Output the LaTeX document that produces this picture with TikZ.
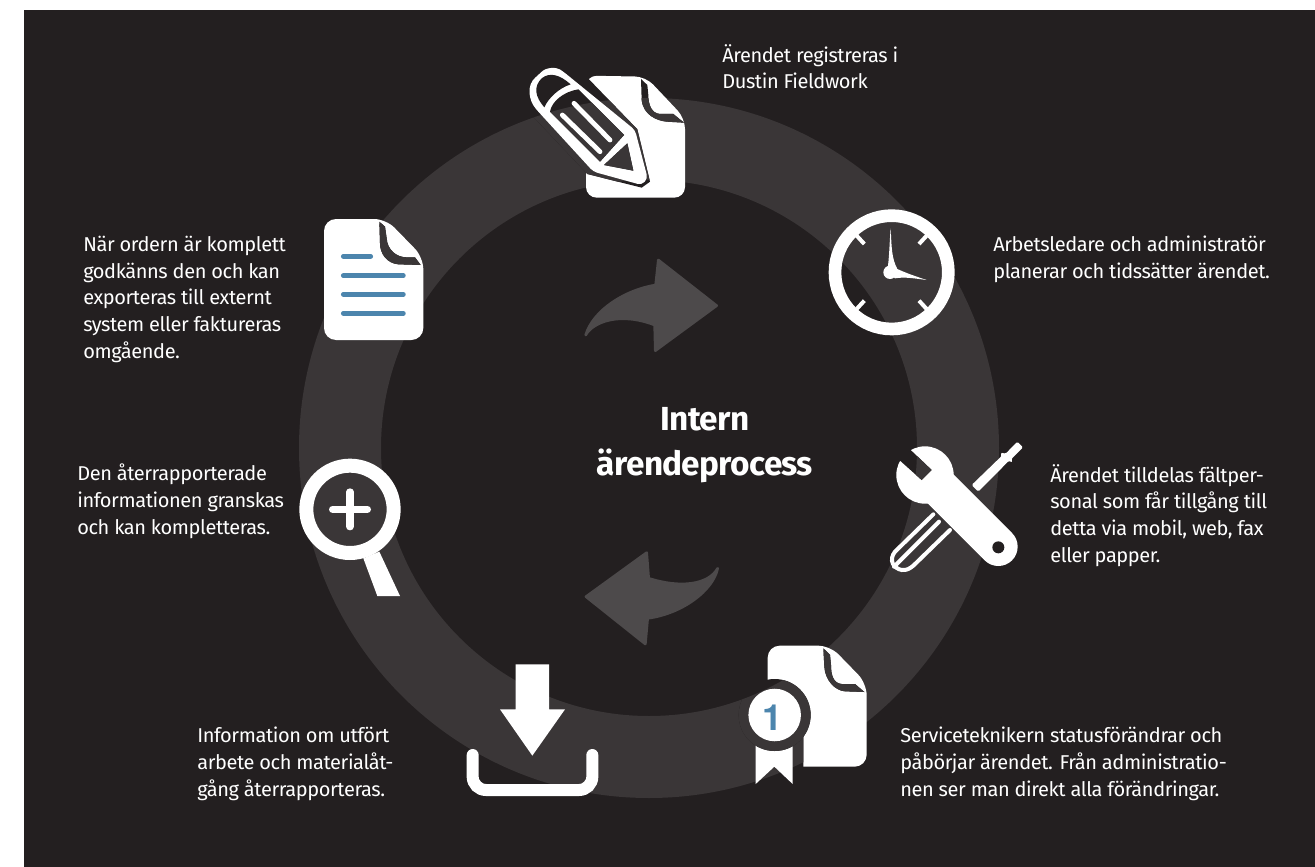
\documentclass[tikz,border=0pt]{standalone}
\usepackage{fontspec}
\setmainfont[LetterSpace=-2]{Fira Sans}
\newfontfamily\onefont{TeX Gyre Heros}
\definecolor{bgcol}{HTML}{231F20}
\definecolor{ringcol}{HTML}{3A3637}
\definecolor{arrowcol}{HTML}{4D4A4B}
\definecolor{bluecol}{HTML}{4C85AD}
\newcommand\MyHole[1]{\begin{scope}\clip #1;\fill[bgcol] (pageA) rectangle (pageB);\fill[ringcol,even odd rule] (rc) circle[radius=262.5pt] (rc) circle[radius=201pt];\end{scope}}
\tikzset{
  zoomed/.style 2 args={shift={(#1,#2)},x=.25pt,y=-.25pt},
  info/.style={anchor=north west,inner sep=0pt,text=white,align=left,font=\fontsize{15pt}{20pt}\selectfont},
  title/.style={inner sep=0pt,text=white,align=center,font=\fontsize{25pt}{34pt}\selectfont\bfseries},
  bigarrow/.style={fill=arrowcol,draw=arrowcol,line width=2pt,line join=round},
  wfill/.style={fill=white},
  wline/.style={draw=white,line cap=round},
}
\begin{document}
\begin{tikzpicture}[x=.75pt,y=-.75pt]
\useasboundingbox (0,0) rectangle (1315,867);
\coordinate (pageA) at (24,10);
\coordinate (pageB) at (1315,867);
\coordinate (rc) at (649,448);
\fill[bgcol] (pageA) rectangle (pageB);
\fill[ringcol,even odd rule] (rc) circle[radius=262.5pt] (rc) circle[radius=201pt];

% centre arrows
\begin{scope}[zoomed={570}{240}]
\path[bigarrow] (440,197) -- (265,60) -- (257,135) .. controls (165,150) and (70,210) .. (47,285) .. controls (70,245) and (150,215) .. (254,255) -- (256,332) -- cycle;
\end{scope}
\begin{scope}[zoomed={570}{550}]
\path[bigarrow] (48,140) -- (230,8) -- (236,85) .. controls (330,115) and (415,105) .. (443,55) .. controls (430,120) and (340,190) .. (233,205) -- (226,282) -- cycle;
\end{scope}

% pencil + document
\begin{scope}[zoomed={500}{50}]
\fill[wfill,rounded corners=8pt] (258,77) -- (437,80) -- (555,205) -- (555,443) -- (258,443) -- cycle;
\MyHole{(240,60) -- (412,238) -- (450,395) -- (425,413) -- (262,372) -- (90,190) -- cycle}
\MyHole{(423,87) -- (425,150) .. controls (430,195) and (470,212) .. (500,215) -- (552,218) -- (520,192) -- (480,192) .. controls (455,190) and (445,165) .. (445,135) -- (442,105) -- cycle}
\fill[wfill,rounded corners=3pt] (115,185) .. controls (85,150) and (80,105) .. (115,75) .. controls (140,50) and (170,52) .. (190,65) -- (405,240) -- (443,385) -- (425,405) -- (280,365) -- cycle;
\MyHole{(133,172) .. controls (105,140) and (100,110) .. (125,85) .. controls (150,65) and (180,75) .. (212,103) .. controls (175,115) and (145,145) .. cycle}
\MyHole{(150,185) .. controls (155,155) and (190,125) .. (235,118) -- (372,255) -- (300,335) -- cycle}
\MyHole{(312,345) -- (382,280) -- (400,362) -- cycle}
\draw[wline,line width=3.6pt] (222,160) -- (330,270) (187,195) -- (300,305);
\end{scope}

% clock
\begin{scope}[zoomed={810}{195}]
\draw[white,line width=9.5pt] (245,232) circle[radius=42.5pt];
\draw[wline,line cap=butt,line width=3pt] (140,122) -- (163,147) (350,122) -- (327,147) (140,342) -- (163,317) (350,342) -- (327,317);
\fill[wfill] (242,100) .. controls (245,160) and (245,190) .. (262,222) .. controls (290,235) and (320,245) .. (350,255) .. controls (310,250) and (285,245) .. (255,250) -- (232,225) .. controls (238,190) and (238,150) .. cycle;
\fill[wfill] (240,232) circle[radius=5pt];
\end{scope}

% tools
\begin{scope}[zoomed={870}{420}]
\fill[wfill,rounded corners=1pt] (305,195) -- (395,108) -- (392,98) -- (407,101) -- (442,65) -- (459,82) -- (424,117) -- (427,128) -- (417,122) -- (325,215) -- cycle;
\draw[wline,line width=3pt] (190,283) -- (75,395) .. controls (55,420) and (70,445) .. (95,450) .. controls (110,452) and (120,445) .. (130,437) -- (240,330);
\draw[wline,line width=3pt] (207,305) -- (72,440);
\fill[wfill] (165,165) circle[radius=21.5pt];
\draw[white,line width=29pt,line cap=round] (200,195) -- (385,380);
\MyHole{(88,120) -- (155,180) -- (185,150) -- (122,90) -- (100,60) -- (60,100) -- cycle}
\MyHole{(385,382) circle[radius=4.5pt]}
\end{scope}

% certificate
\begin{scope}[zoomed={730}{630}]
\fill[wfill,rounded corners=9pt] (113,47) -- (300,47) -- (410,160) -- (410,410) -- (220,410) -- (113,410) -- cycle;
\MyHole{(0,255) rectangle (220,430)}
\MyHole{(280,55) -- (283,110) .. controls (285,150) and (315,182) .. (345,184) -- (403,186) -- (375,162) -- (335,162) .. controls (310,160) and (303,135) .. (303,105) -- (300,75) -- cycle}
\fill[wfill] (77,340) -- (188,340) -- (188,462) -- (133,410) -- (77,462) -- cycle;
\MyHole{(134,255) circle[radius=27pt]}
\fill[wfill] (134,255) circle[radius=19.7pt];
\node[inner sep=0pt,text=bluecol,font=\onefont\bfseries\fontsize{27pt}{27pt}\selectfont] (one) at (128,263) {1};
\end{scope}

% download
\begin{scope}[zoomed={450}{650}]
\fill[wfill] (197,43) -- (297,43) -- (297,178) -- (345,178) -- (247,317) -- (150,178) -- (197,178) -- cycle;
\draw[wline,line width=9pt,rounded corners=10pt] (68,315) -- (68,420) -- (427,420) -- (427,315);
\end{scope}

% magnifier
\begin{scope}[zoomed={290}{450}]
\draw[white,line width=10.5pt] (180,178) circle[radius=32.75pt];
\fill[wfill] (220,325) -- (268,305) -- (330,438) -- (262,438) -- cycle;
\draw[wline,line width=5.5pt] (128,178) -- (232,178) (180,126) -- (180,230);
\end{scope}

% document
\begin{scope}[zoomed={300}{200}]
\fill[wfill,rounded corners=9pt] (72,57) -- (258,57) -- (370,172) -- (370,420) -- (72,420) -- cycle;
\MyHole{(238,65) -- (255,80) -- (260,115) .. controls (262,150) and (290,172) .. (320,172) -- (345,172) -- (362,195) -- (295,193) .. controls (260,190) and (240,160) .. (240,130) -- cycle}
\draw[draw=bluecol,line cap=round,line width=3.6pt] (130,169) -- (212,169) (130,227) -- (310,227) (130,283) -- (310,283) (130,340) -- (310,340);
\end{scope}

% texts
\node[title] (centre) at (705,445) {Intern\\ärendeprocess};
\node[info] (t1) at (722,44) {Ärendet registreras i\\Dustin Fieldwork};
\node[info] (t2) at (993,236) {Arbetsledare och administratör\\planerar och tidssätter ärendet.};
\node[info] (t3) at (1050,464) {Ärendet tilldelas fältper-\\sonal som får tillgång till\\detta via mobil, web, fax\\eller papper.};
\node[info] (t4) at (900,727) {Serviceteknikern statusförändrar och\\påbörjar ärendet. Från administratio-\\nen ser man direkt alla förändringar.};
\node[info] (t5) at (197,727) {Information om utfört\\arbete och materialåt-\\gång återrapporteras.};
\node[info] (t6) at (77,464) {Den återrapporterade\\informationen granskas\\och kan kompletteras.};
\node[info] (t7) at (83,236) {När ordern är komplett\\godkänns den och kan\\exporteras till externt\\system eller faktureras\\omgående.};
\end{tikzpicture}
\end{document}
